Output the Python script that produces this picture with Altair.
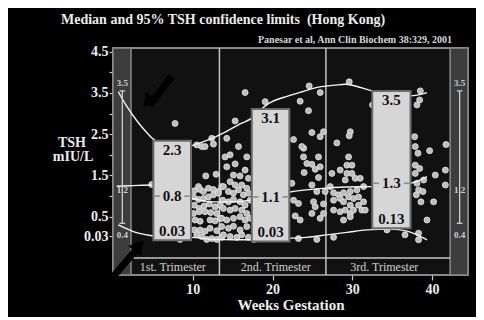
import altair as alt
import pandas as pd

# ---------------- data ----------------
# scatter points (week of gestation, TSH mIU/L)
pts_t1 = [(7.78,2.76),(10.50,2.24),(11.13,2.20),(11.54,2.20),(12.38,2.40),(12.59,2.26),
          (11.63,1.49),(12.92,1.53),(4.85,1.28),
          (10.71,1.23),(10.20,1.13),(10.92,1.16),(11.33,1.11),(11.96,1.19),(12.59,1.16),(13.22,1.11),
          (10.08,0.98),(10.71,0.92),(11.33,0.94),(11.96,0.98),(12.59,1.03),(13.22,1.07),
          (10.20,0.78),(10.83,0.70),(11.42,0.76),(12.09,0.81),(12.80,0.74),
          (10.08,0.58),(10.79,0.62),(11.54,0.62),(12.25,0.60),(13.01,0.58),
          (10.29,0.42),(10.92,0.39),(12.17,0.42),(12.80,0.40),
          (10.20,0.18),(10.92,0.18),(11.54,0.15),(12.17,0.22),(13.01,0.16),
          (10.50,0.06),(11.13,0.02),(11.75,-0.05),(12.38,-0.03),(13.01,-0.05),
          (8.41,-0.05),(9.03,0.00)]
pts_t2 = [(13.63,1.23),(13.43,0.78),(13.43,0.46),(13.63,0.00),(14.26,2.40),(15.31,2.82),(16.56,3.51),(19.07,3.29),
          (14.05,1.95),(14.68,2.00),(15.73,2.20),(15.31,1.78),(16.77,1.95),(16.56,1.63),(16.98,1.43),
          (14.26,1.71),(15.10,1.51),(15.93,1.49),(14.68,1.35),(15.31,1.27),(16.14,1.27),(16.77,1.19),
          (13.84,1.23),(14.47,1.11),(15.10,1.07),(15.73,1.15),(16.35,1.03),(16.98,1.07),
          (13.76,0.90),(14.47,0.86),(15.10,0.92),(15.93,0.86),(16.56,0.78),(17.19,0.90),
          (13.84,0.70),(14.68,0.66),(15.31,0.70),(16.14,0.66),(16.77,0.58),
          (13.63,0.46),(14.26,0.42),(15.10,0.46),(15.93,0.50),(16.56,0.42),(17.19,0.46),
          (13.63,0.26),(14.47,0.22),(15.10,0.27),(15.93,0.18),(16.77,0.26),
          (13.84,0.06),(14.68,0.02),(15.52,0.00),(16.14,0.06),(16.98,0.00),(17.69,-0.05),
          (23.46,3.30),(24.51,3.07),(24.59,3.67),(25.97,3.51),(22.63,2.37),(24.93,2.54),(26.39,2.56),
          (25.97,2.44),(23.90,2.16),
          (22.42,1.31),(22.63,0.90),(23.25,0.82),(23.67,2.20),(23.88,1.95),(24.30,1.79),(23.96,1.57),
          (24.93,1.77),(25.35,1.65),(25.76,1.95),(25.97,1.71),(24.93,1.27),(25.55,1.11),(25.14,0.86),
          (25.35,0.74),(24.93,0.58),(23.46,0.42),(22.84,0.52),(25.97,0.46),(26.39,0.58),(26.39,0.81),
          (25.76,1.45),(26.60,1.11),(25.55,-0.05),(23.25,-0.03)]
pts_t3 = [(29.61,3.77),(32.54,3.21),(38.52,3.55),(38.44,3.33),(38.10,3.21),(29.74,2.56),(29.61,2.46),
          (28.06,2.29),(37.81,2.44),(37.89,2.20),(38.23,2.04),(39.69,2.10),(41.74,2.25),
          (27.23,1.23),(27.44,1.55),(29.53,1.95),(28.48,1.63),(29.32,1.75),(29.95,1.75),(29.32,1.55),
          (29.95,1.55),(29.11,1.39),(30.36,1.43),(30.99,1.43),(29.74,1.11),(30.57,1.15),(31.41,1.23),
          (27.65,1.08),(28.27,1.03),(28.90,1.08),(29.53,0.98),(30.15,0.94),(30.78,0.98),
          (27.65,0.90),(28.48,0.94),(28.90,0.86),(29.74,0.78),(30.78,0.78),(31.41,0.86),
          (27.65,0.66),(28.48,0.62),(29.11,0.66),(29.74,0.58),(30.15,0.66),(31.20,0.66),(31.62,0.66),
          (28.90,0.42),(29.74,0.50),(27.65,0.00),(34.34,0.18),(36.60,0.06),(38.30,0.10),(38.30,-0.06),
          (37.89,1.75),(38.44,1.67),(37.89,1.55),(38.94,1.39),(38.10,1.31),(38.31,1.15),(38.85,1.11),
          (38.02,1.03),(38.60,0.86),(40.19,0.86),(40.40,1.51),(41.66,1.63),(41.66,1.27),(39.36,0.42)]

# smoothed limit curves
upper_wk = [0.66,1.72,3.01,4.14,5.27,7.15,9.03,10.92,12.55,14.05,15.93,17.4,18.44,19.48,21.99,23.68,25.76,27.85,29.1,30.36,32.46,34.75,37.26,39.36]
upper_v  = [3.53,3.18,2.82,2.56,2.35,2.24,2.19,2.29,2.41,2.55,2.75,2.89,3.08,3.24,3.43,3.53,3.64,3.69,3.71,3.67,3.55,3.49,3.43,3.51]
median_wk = [0.46,2.13,5.02,7.4,9.87,12.58,15.1,17.19,19.7,22.2,25.97,29.1,32.46,34.75,37.26,39.36]
median_v  = [1.24,1.25,1.27,1.1,0.95,0.86,0.86,0.90,1.0,1.1,1.18,1.22,1.23,1.27,1.31,1.47]
lower_wk = [0.66,2.55,4.23,7.15,9.87,12.58,15.1,17.19,19.7,22.2,24.3,26.81,29.32,31.83,34.75,36.85,38.1,39.36]
lower_v  = [0.30,0.14,0.06,-0.02,0.0,-0.05,-0.06,-0.06,-0.05,-0.02,0.0,0.06,0.12,0.18,0.20,0.15,0.06,-0.06]

# trimester boxes
box_x1 = [5.06, 17.4, 32.5]
box_x2 = [9.78, 22.1, 37.3]
box_top = [2.34, 3.11, 3.55]
box_med = [1.0, 0.98, 1.31]
box_bot = [-0.07, -0.10, 0.22]
lab_top = ["2.3", "3.1", "3.5"]
lab_med = ["0.8", "1.1", "1.3"]
lab_bot = ["0.03", "0.03", "0.13"]

trimesters = ["1st. Trimester", "2nd. Trimester", "3rd. Trimester"]
trim_center = [7.5, 20.4, 34.0]
dividers = [13.34, 26.69]

# side reference bars
side_x = [1.17, 43.45]
side_hi, side_lo = 3.55, 0.34
side_labels = ["3.5", "1.2", "0.4"]
side_label_y = [3.75, 1.15, 0.06]

y_ticks = [0.03, 0.5, 1, 1.5, 2, 2.5, 3, 3.5, 4, 4.5]
x_ticks = [10, 20, 30, 40]

# ---------------- chart ----------------
XMAX = 44.5
YMIN, YMAX = -0.913, 4.59
XS = alt.Scale(domain=[0, XMAX], nice=False, zero=False)
YS = alt.Scale(domain=[YMIN, YMAX], nice=False, zero=False)
SERIF = "Liberation Serif"

XAX = alt.Axis(
    values=x_ticks, format="d", title="Weeks Gestation", domain=False, grid=False,
    tickSize=5, tickColor="#c8c8c8", tickWidth=1.2, labelPadding=2,
    labelFont=SERIF, labelFontWeight="bold", labelFontSize=14, labelColor="#ececec",
    titleFont=SERIF, titleFontWeight="bold", titleFontSize=15, titleColor="#ececec",
    titlePadding=1)
YAX = alt.Axis(
    values=y_ticks, title=None, domain=False, grid=False,
    labelExpr="datum.value == 0.03 ? '0.03' : (datum.value % 1 == 0 ? '' : format(datum.value, '.1f'))",
    tickSize=4, tickColor="#c8c8c8", tickWidth=1.2, labelPadding=1,
    labelFont=SERIF, labelFontWeight="bold", labelFontSize=14, labelColor="#ececec")


def X(f):
    return alt.X(f, type="quantitative", scale=XS, axis=XAX)


def Y(f):
    return alt.Y(f, type="quantitative", scale=YS, axis=YAX)


# frame / backgrounds
frame_df = pd.DataFrame([
    dict(x=0, x2=XMAX, y=YMIN, y2=YMAX, f="#111111", s="#b4b4b4"),
    dict(x=0, x2=2.26, y=YMIN, y2=YMAX, f="#3d3d3d", s="#8a8a8a"),
    dict(x=42.26, x2=XMAX, y=YMIN, y2=YMAX, f="#3d3d3d", s="#8a8a8a"),
])
frame = alt.Chart(frame_df).mark_rect(strokeWidth=1.5).encode(
    x=X("x"), x2="x2:Q", y=Y("y"), y2="y2:Q",
    fill=alt.Fill("f:N", scale=None),
    stroke=alt.Stroke("s:N", scale=None),
)

div_df = pd.DataFrame({"x": dividers, "y": [YMIN] * 2, "y2": [YMAX] * 2})
divs = alt.Chart(div_df).mark_rule(color="#c4c4c4", strokeWidth=1.5).encode(
    x=X("x"), y=Y("y"), y2="y2:Q")
band_df = pd.DataFrame({"x": [2.26], "x2": [42.26], "y": [-0.50]})
band = alt.Chart(band_df).mark_rule(color="#c4c4c4", strokeWidth=1.5).encode(
    x=X("x"), x2="x2:Q", y=Y("y"))
trim_df = pd.DataFrame({"x": trim_center, "y": [-0.71] * 3, "t": trimesters})
trim = alt.Chart(trim_df).mark_text(font=SERIF, fontSize=12, color="#d2d2d2").encode(
    x=X("x"), y=Y("y"), text="t:N")

pts = pts_t1 + pts_t2 + pts_t3
pts_df = pd.DataFrame(pts, columns=["w", "v"])
points = alt.Chart(pts_df).mark_point(
    filled=True, size=36, fill="#bdbdbd", stroke="#e6e6e6", strokeWidth=0.8, opacity=1
).encode(x=X("w"), y=Y("v"))

curve_rows = []
for name, ws, vs in (("upper", upper_wk, upper_v), ("median", median_wk, median_v), ("lower", lower_wk, lower_v)):
    for i, (w, v) in enumerate(zip(ws, vs)):
        curve_rows.append(dict(c=name, i=i, w=w, v=v))
curves = alt.Chart(pd.DataFrame(curve_rows)).mark_line(
    color="#f4f4f4", strokeWidth=1.4, interpolate="monotone"
).encode(x=X("w"), y=Y("v"), detail="c:N", order="i:Q")

box_df = pd.DataFrame({"x1": box_x1, "x2": box_x2, "top": box_top, "med": box_med, "bot": box_bot,
                       "lt": lab_top, "lm": lab_med, "lb": lab_bot})
box_df["xc"] = (box_df.x1 + box_df.x2) / 2
boxes = alt.Chart(box_df).mark_rect(fill="#d6d6d6", stroke="#6c6c6c", strokeWidth=2).encode(
    x=X("x1"), x2="x2:Q", y=Y("bot"), y2="top:Q")

dash_rows = []
for a, b, m in zip(box_x1, box_x2, box_med):
    dash_rows.append(dict(x=a, x2=a + 0.85, y=m))
    dash_rows.append(dict(x=b - 0.85, x2=b, y=m))
dashes = alt.Chart(pd.DataFrame(dash_rows)).mark_rule(color="#8a8a8a", strokeWidth=1.5).encode(
    x=X("x"), x2="x2:Q", y=Y("y"))

txt = dict(font=SERIF, fontWeight="bold", fontSize=15, color="#111111", baseline="middle")
t_top = alt.Chart(box_df).mark_text(dy=9, **txt).encode(x=X("xc"), y=Y("top"), text="lt:N")
t_med = alt.Chart(box_df).mark_text(dy=0, **txt).encode(x=X("xc"), y=Y("med"), text="lm:N")
t_bot = alt.Chart(box_df).mark_text(dy=-9, **txt).encode(x=X("xc"), y=Y("bot"), text="lb:N")

# side bars
side_rows, cap_rows, slab_rows = [], [], []
for sx in side_x:
    side_rows.append(dict(x=sx, y=side_lo, y2=side_hi))
    cap_rows.append(dict(x=sx - 0.35, x2=sx + 0.35, y=side_hi))
    cap_rows.append(dict(x=sx - 0.35, x2=sx + 0.35, y=side_lo))
    for lab, ly in zip(side_labels, side_label_y):
        slab_rows.append(dict(x=sx, y=ly, t=lab))
side_line = alt.Chart(pd.DataFrame(side_rows)).mark_rule(color="#cfcfcf", strokeWidth=1.3).encode(
    x=X("x"), y=Y("y"), y2="y2:Q")
side_caps = alt.Chart(pd.DataFrame(cap_rows)).mark_rule(color="#cfcfcf", strokeWidth=1.3).encode(
    x=X("x"), x2="x2:Q", y=Y("y"))
side_text = alt.Chart(pd.DataFrame(slab_rows)).mark_text(
    font=SERIF, fontWeight="bold", fontSize=9, color="#cfcfcf", baseline="middle"
).encode(x=X("x"), y=Y("y"), text="t:N")

# arrows
arrow_shaft = pd.DataFrame([dict(x=7.36, y=3.91, x2=4.6, y2=3.2),
                            dict(x=0.04, y=-0.95, x2=3.0, y2=-0.28)])
shafts = alt.Chart(arrow_shaft).mark_rule(color="black", strokeWidth=7, clip=False).encode(
    x=X("x"), y=Y("y"), x2="x2:Q", y2="y2:Q")
heads = alt.Chart(pd.DataFrame([dict(x=4.37, y=3.28, a=219.5), dict(x=3.25, y=-0.2, a=39.3)])).mark_point(
    shape="triangle-up", filled=True, size=260, color="black", opacity=1, clip=False
).encode(x=X("x"), y=Y("y"), angle=alt.Angle("a:Q", scale=None))

one = pd.DataFrame({"a": [0]})
title = alt.Chart(one).mark_text(font=SERIF, fontWeight="bold", fontSize=14, color="#ececec",
                                 align="left", baseline="middle",
                                 text="Median and 95% TSH confidence limits\u00a0\u00a0(Hong Kong)"
                                 ).encode(x=alt.value(-52), y=alt.value(-28))
cite = alt.Chart(one).mark_text(font=SERIF, fontWeight="bold", fontSize=10, color="#d8d8d8",
                                align="right", baseline="middle", text="Panesar et al, Ann Clin Biochem 38:329, 2001"
                                ).encode(x=alt.value(339), y=alt.value(-8))
ytitle1 = alt.Chart(one).mark_text(font=SERIF, fontWeight="bold", fontSize=14, color="#ececec",
                                   baseline="middle", text="TSH").encode(x=alt.value(-41), y=alt.value(95))
ytitle2 = alt.Chart(one).mark_text(font=SERIF, fontWeight="bold", fontSize=14, color="#ececec",
                                   baseline="middle", text="mIU/L").encode(x=alt.value(-40), y=alt.value(109))

chart = alt.layer(
    frame, divs, band, trim, points, curves, boxes, dashes, t_top, t_med, t_bot,
    side_line, side_caps, side_text, shafts, heads, title, cite, ytitle1, ytitle2
).properties(
    width=355, height=227,
    padding={"left": 105, "top": 40, "right": 8, "bottom": 42},
    autosize=alt.AutoSizeParams(type="none"),
    background="black",
).configure_view(stroke=None)

chart.save("out.html", embed_options={"renderer": "svg", "actions": False})
